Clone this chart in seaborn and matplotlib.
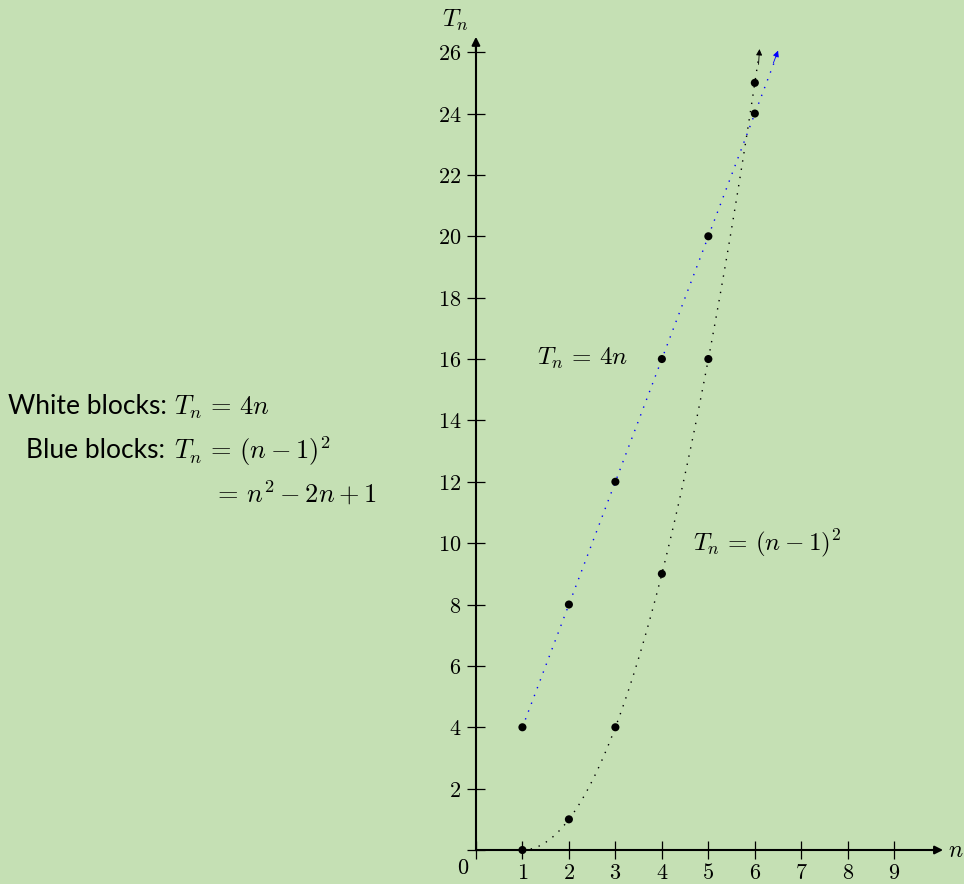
import matplotlib
matplotlib.use("Agg")
import matplotlib.pyplot as plt
import seaborn as sns
import pandas as pd

sns.set_theme(style="white")
plt.rcParams["mathtext.fontset"] = "cm"
plt.rcParams["font.family"] = ["Lato", "DejaVu Sans"]
plt.rcParams["text.color"] = "black"
plt.rcParams["xtick.color"] = "black"
plt.rcParams["ytick.color"] = "black"
plt.rcParams["xtick.labelcolor"] = "black"
plt.rcParams["ytick.labelcolor"] = "black"

BG = "#c5e0b4"

# data
n_vals = [1, 2, 3, 4, 5, 6]
white_blocks = [4, 8, 12, 16, 20, 24]
blue_blocks = [0, 1, 4, 9, 16, 25]
line_x = [1, 6.5]
line_y = [4, 26]
x_ticks = [0, 1, 2, 3, 4, 5, 6, 7, 8, 9]
x_tick_labels = ["", "1", "2", "3", "4", "5", "6", "7", "8", "9"]
y_ticks = [0, 2, 4, 6, 8, 10, 12, 14, 16, 18, 20, 22, 24, 26]
y_tick_labels = [""] + [str(v) for v in y_ticks[1:]]

fig = plt.figure(figsize=(9.64, 8.84), dpi=100, facecolor=BG)
ax = fig.add_axes([462 / 964, (884 - 880.7) / 884, 502 / 964, 880.7 / 884])
ax.set_facecolor(BG)

df_w = pd.DataFrame({"n": n_vals, "T": white_blocks})
df_b = pd.DataFrame({"n": n_vals, "T": blue_blocks})
df_l = pd.DataFrame({"n": line_x, "T": line_y})

# blue dotted line
sns.lineplot(data=df_l, x="n", y="T", ax=ax, color="blue", lw=1.0,
             linestyle=(0, (1, 5)), zorder=2)
# quadratic dotted curve through blue block points
ax.set_xlim(1, 6.1)
sns.regplot(data=df_b, x="n", y="T", ax=ax, order=2, ci=None, scatter=False,
            truncate=False, line_kws=dict(color="black", lw=1.0, linestyle=(0, (1, 5))))

ax.set_xlim(-0.3, 10.5)
ax.set_ylim(-1.0, 27.7)

sns.scatterplot(data=df_w, x="n", y="T", ax=ax, color="black", s=34, zorder=5, edgecolor="none")
sns.scatterplot(data=df_b, x="n", y="T", ax=ax, color="black", s=34, zorder=5, edgecolor="none")

# arrowheads at line ends
ax.annotate("", xy=(6.5, 26.05), xytext=(6.4, 25.65),
            arrowprops=dict(arrowstyle="-|>", color="blue", lw=0.6, mutation_scale=9, shrinkA=0, shrinkB=0))
ax.annotate("", xy=(6.1, 26.1), xytext=(6.08, 25.6),
            arrowprops=dict(arrowstyle="-|>", color="black", lw=0.6, mutation_scale=9, shrinkA=0, shrinkB=0))

# axes
for s in ["top", "right"]:
    ax.spines[s].set_visible(False)
ax.spines["left"].set_position(("data", 0))
ax.spines["bottom"].set_position(("data", 0))
ax.spines["left"].set_bounds(0, 26.3)
ax.spines["bottom"].set_bounds(0, 9.9)
for s in ["left", "bottom"]:
    ax.spines[s].set_linewidth(1.5)
    ax.spines[s].set_color("black")
ax.annotate("", xy=(10.05, 0), xytext=(9.8, 0),
            arrowprops=dict(arrowstyle="-|>", color="black", lw=1.5, mutation_scale=12, shrinkA=0, shrinkB=0))
ax.annotate("", xy=(0, 26.5), xytext=(0, 26.0),
            arrowprops=dict(arrowstyle="-|>", color="black", lw=1.5, mutation_scale=12, shrinkA=0, shrinkB=0))

ax.set_xticks(x_ticks)
ax.set_xticklabels(["$%s$" % t if t else "" for t in x_tick_labels])
ax.set_yticks(y_ticks)
ax.set_yticklabels(["$%s$" % t if t else "" for t in y_tick_labels])
ax.tick_params(axis="both", direction="inout", length=13, width=0.9, color="black",
               labelcolor="black", labelsize=16, left=True, bottom=True)
ax.tick_params(axis="x", pad=3)
ax.tick_params(axis="y", pad=4)
ax.set_xlabel("")
ax.set_ylabel("")

ax.text(-0.15, -0.25, "$0$", ha="right", va="top", fontsize=16)
ax.text(10.15, 0, "$n$", ha="left", va="center", fontsize=17)
ax.text(-0.45, 27.05, "$T_n$", ha="center", va="center", fontsize=18)

ax.text(2.3, 16.03, r"$T_n \,=\, 4n$", ha="center", va="center", fontsize=18)
ax.text(6.26, 10.0, r"$T_n \,=\, (n-1)^2$", ha="center", va="center", fontsize=18)

# left description
fs_t, fs_m = 19, 19
fig.text(167 / 964, 1 - 407 / 884, "White blocks:", ha="right", va="center", fontsize=fs_t)
fig.text(174 / 964, 1 - 407 / 884, r"$T_n \,=\, 4n$", ha="left", va="center", fontsize=fs_m)
fig.text(165 / 964, 1 - 451 / 884, "Blue blocks:", ha="right", va="center", fontsize=fs_t)
fig.text(174 / 964, 1 - 451 / 884, r"$T_n \,=\, (n-1)^2$", ha="left", va="center", fontsize=fs_m)
fig.text(213 / 964, 1 - 493 / 884, r"$=\, n^2 - 2n + 1$", ha="left", va="center", fontsize=fs_m)

fig.savefig("out.png", dpi=100, facecolor=BG)
